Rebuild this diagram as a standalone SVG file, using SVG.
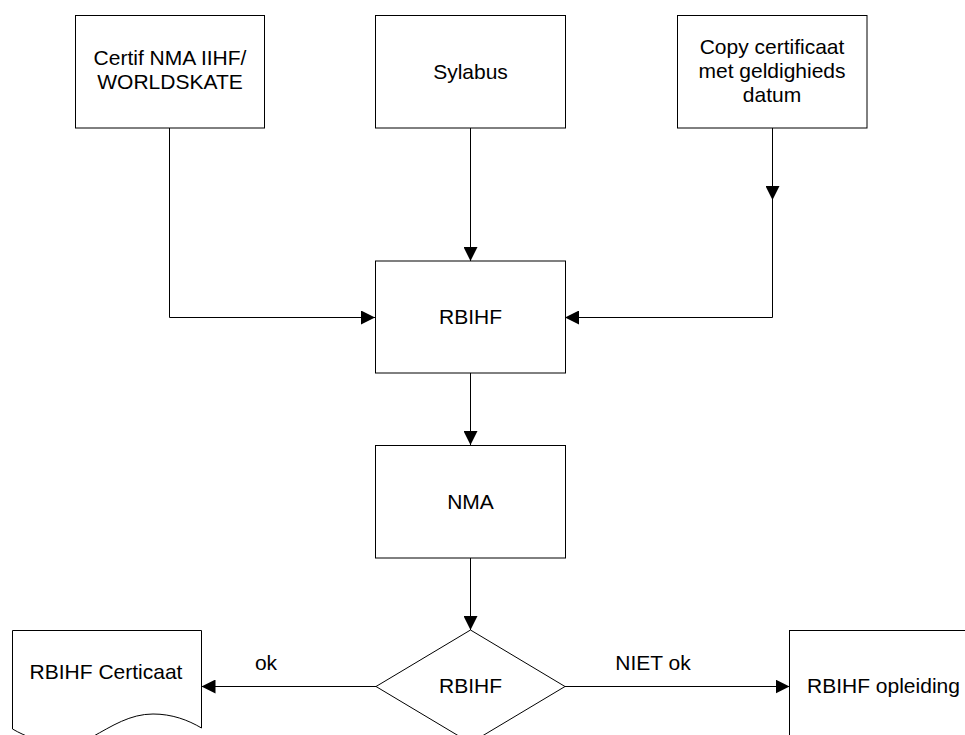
<svg xmlns="http://www.w3.org/2000/svg" width="965" height="735" viewBox="0 0 965 735">
<style>
.box{fill:#fff;stroke:#000;stroke-width:1}
.t{font-family:"Liberation Sans",Arial,sans-serif;font-size:21px;fill:#000;text-anchor:middle}
.c{fill:none;stroke:#000;stroke-width:1}
</style>
<defs>
<marker id="ah" markerUnits="userSpaceOnUse" markerWidth="14" markerHeight="14" viewBox="0 0 14 14" refX="14" refY="7" orient="auto">
<path d="M0,0 L14,7 L0,14 Z" fill="#000"/>
</marker>
</defs>
<rect width="965" height="735" fill="#fff"/>
<g id="connectors">
<path class="c" d="M169.5,128 V317.5 H375" marker-end="url(#ah)"/>
<path class="c" d="M470.5,128 V261" marker-end="url(#ah)"/>
<path class="c" d="M772.5,128 V200" marker-end="url(#ah)"/>
<path class="c" d="M772.5,200 V317.5 H565" marker-end="url(#ah)"/>
<path class="c" d="M470.5,373 V445" marker-end="url(#ah)"/>
<path class="c" d="M470.5,558 V630" marker-end="url(#ah)"/>
<path class="c" d="M376,686.5 H201.5" marker-end="url(#ah)"/>
<path class="c" d="M565,686.5 H789.5" marker-end="url(#ah)"/>
<text class="t" x="266" y="670">ok</text>
<text class="t" x="653" y="670">NIET ok</text>
</g>
<g id="certif">
<rect class="box" x="75.5" y="15.5" width="189" height="112.5"/>
<text class="t" x="170" y="65">Certif NMA IIHF/</text>
<text class="t" x="170" y="89">WORLDSKATE</text>
</g>
<g id="sylabus">
<rect class="box" x="375.5" y="15.5" width="190" height="112.5"/>
<text class="t" x="470.5" y="79">Sylabus</text>
</g>
<g id="copy">
<rect class="box" x="677.5" y="15.5" width="189.5" height="112.5"/>
<text class="t" x="772" y="54">Copy certificaat</text>
<text class="t" x="772" y="78">met geldighieds</text>
<text class="t" x="772" y="102">datum</text>
</g>
<g id="rbihf">
<rect class="box" x="375.5" y="261" width="190" height="112"/>
<text class="t" x="470.5" y="324">RBIHF</text>
</g>
<g id="nma">
<rect class="box" x="375.5" y="445.5" width="190" height="112.5"/>
<text class="t" x="470.5" y="509">NMA</text>
</g>
<g id="decision">
<path class="box" d="M470.5,630 L565,686.5 L470.5,743 L376,686.5 Z"/>
<text class="t" x="470.5" y="693">RBIHF</text>
</g>
<g id="certicaat">
<path class="box" d="M12.5,630.5 H201.5 V728 C188,720 172,714 153,714 C130,714 112,726 92,737 C70,748 40,745 12.5,729 Z"/>
<text class="t" x="106" y="679">RBIHF Certicaat</text>
</g>
<g id="opleiding">
<rect class="box" x="789.5" y="630.5" width="190" height="112"/>
<text class="t" x="807" y="693" style="text-anchor:start">RBIHF opleiding</text>
</g>
</svg>
